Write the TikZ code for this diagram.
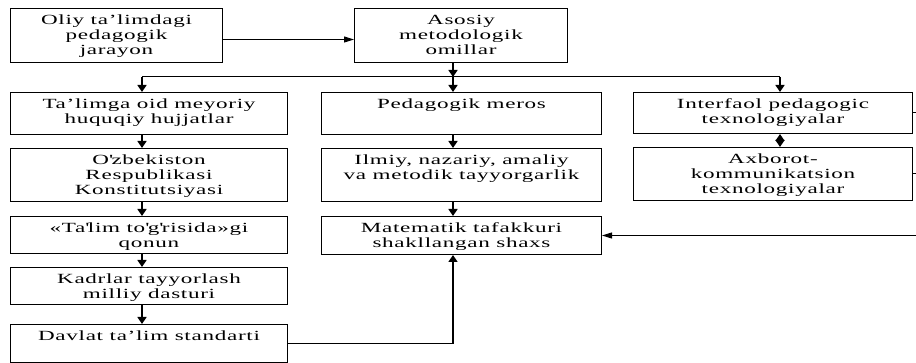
\documentclass[tikz,border=0pt]{standalone}
\usepackage{fontspec}
\setmainfont{Liberation Serif}[FakeStretch=1.65,LetterSpace=5]
\usetikzlibrary{arrows.meta,positioning}

\begin{document}
\begin{tikzpicture}[x=1pt,y=1pt,
                    every node/.style={draw,anchor=north west,inner sep=0pt},
                    txt/.style={draw=none,anchor=north,align=center,inner xsep=3pt,inner ysep=6.5pt,
                                font=\fontsize{14}{15}\selectfont},
                    every path/.style={line width=1pt,>={Triangle[length=7pt,width=9pt]}},
                    strelka/.style={->,line width=1.5pt}]

\useasboundingbox (0,0) rectangle (916,-363);

\node[minimum width=212,minimum height=54,label={[txt]north:{Oliy ta’limdagi\\pedagogik\\jarayon}}] (jarayon) at (10,-8) {};
\node[minimum width=213,minimum height=54,label={[txt]north:{Asosiy\\metodologik\\omillar}}] (omillar) at (354,-8) {};

\node[minimum width=277,minimum height=42,label={[txt]north:{Ta’limga oid meyoriy\\huquqiy hujjatlar}}] (meyor) at (10,-92) {};
\node[minimum width=277,minimum height=53,label={[txt]north:{O\textquotesingle zbekiston\\Respublikasi\\Konstitutsiyasi}}] (konst) at (10,-148) {};
\node[minimum width=277,minimum height=37,label={[txt]north:{«Ta\textquotesingle lim to\textquotesingle g\textquotesingle risida»gi\\qonun}}] (qonun) at (10,-216) {};
\node[minimum width=277,minimum height=37,label={[txt]north:{Kadrlar tayyorlash\\milliy dasturi}}] (kadr) at (10,-267) {};
\node[minimum width=277,minimum height=38,label={[txt]north:{Davlat ta’lim standarti}}] (standart) at (10,-324) {};

\node[minimum width=280,minimum height=42,label={[txt]north:{Pedagogik meros}}] (meros) at (321,-92) {};
\node[minimum width=280,minimum height=53,label={[txt]north:{Ilmiy, nazariy, amaliy\\va metodik tayyorgarlik}}] (tayyor) at (321,-148) {};
\node[minimum width=280,minimum height=38,label={[txt]north:{Matematik tafakkuri\\shakllangan shaxs}}] (shaxs) at (321,-216) {};

\node[minimum width=279,minimum height=41,label={[txt]north:{Interfaol pedagogic\\texnologiyalar}}] (interfaol) at (633,-92) {};
\node[minimum width=279,minimum height=53,label={[txt]north:{Axborot-\\kommunikatsion\\texnologiyalar}}] (axborot) at (633,-147) {};

\coordinate (chap) at (142,-77);
\coordinate (tarmoq) at (453,-77);
\coordinate (ong) at (780,-77);
\coordinate (chet) at (916,0);

\draw[->,>={Triangle[length=10pt,width=6pt]}] ([yshift=-4]jarayon.east) -- ([yshift=-4]jarayon.east -| omillar.west);
\draw[strelka] (omillar.south -| tarmoq) -- (tarmoq);
\draw (chap) -- (ong);
\draw[strelka] (chap) -- (chap |- meyor.north);
\draw[strelka] (tarmoq) -- (tarmoq |- meros.north);
\draw[strelka] (ong) -- (ong |- interfaol.north);

\foreach \a/\b in {meyor/konst,konst/qonun,qonun/kadr,kadr/standart}
  \draw[strelka] (chap |- \a.south) -- (chap |- \b.north);
\foreach \a/\b in {meros/tayyor,tayyor/shaxs}
  \draw[strelka] (tarmoq |- \a.south) -- (tarmoq |- \b.north);
\draw[strelka,<->] (ong |- interfaol.south) -- (ong |- axborot.north);

\draw[strelka] (standart.east) -- (standart.east -| tarmoq) -- (tarmoq |- shaxs.south);
\draw (interfaol.east) -- (interfaol.east -| chet);
\draw (axborot.east) -- (axborot.east -| chet);
\draw[->,>={Triangle[length=10pt,width=6pt]}] (chet |- shaxs.east) -- (shaxs.east);

\end{tikzpicture}
\end{document}
